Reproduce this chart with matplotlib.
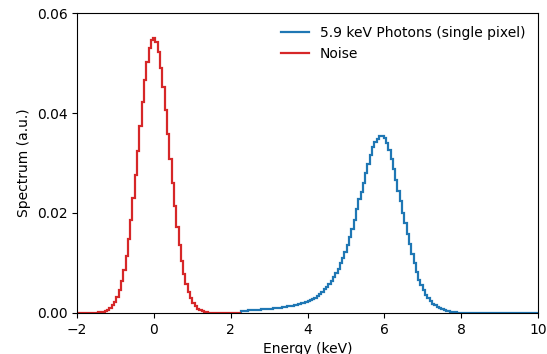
import numpy as np
import matplotlib
matplotlib.use('Agg')
import matplotlib.pyplot as plt

# 200 bins from -2 to 10 keV (0.06 keV wide)
e_lo, e_hi, nbins = -2.0, 10.0, 200

# noise spectrum, first 71 bins (centres -1.97 ... 2.23)
noise = [0, 0, 0, 0, 0, 0, 0.00001, 0.00003, 0.00005, 0.00009,
         0.00016, 0.00026, 0.00042, 0.00066, 0.00102, 0.00154, 0.00227, 0.00328, 0.00462, 0.00639,
         0.00862, 0.0114, 0.0147, 0.0185, 0.0229, 0.0276, 0.0325, 0.0375, 0.0423, 0.0466,
         0.0503, 0.0530, 0.0546, 0.0550, 0.0542, 0.0522, 0.0491, 0.0452, 0.0407, 0.0359,
         0.0309, 0.0260, 0.0214, 0.0172, 0.0135, 0.0104, 0.00782, 0.00575, 0.00414, 0.00291,
         0.00200, 0.00134, 0.00088, 0.00057, 0.00036, 0.00022, 0.00013, 0.00008, 0.00004, 0.00002,
         0.00001, 0, 0, 0, 0, 0, 0, 0, 0, 0,
         0]

# 5.9 keV photons, remaining 129 bins (centres 2.29 ... 9.97)
photons = [0.00045, 0.00046, 0.00048, 0.00051, 0.00053, 0.00056, 0.00058, 0.00062, 0.00065, 0.00069,
           0.00073, 0.00077, 0.00082, 0.00087, 0.00092, 0.00097, 0.00102, 0.00108, 0.00115, 0.00122,
           0.00129, 0.00137, 0.00146, 0.00155, 0.00166, 0.00178, 0.0019, 0.00203, 0.00221, 0.00239,
           0.00257, 0.0028, 0.00305, 0.0034, 0.0037, 0.0041, 0.0047, 0.0052, 0.0058, 0.0064,
           0.0071, 0.0079, 0.0088, 0.0099, 0.0110, 0.0122, 0.0136, 0.0151, 0.0167, 0.0186,
           0.0207, 0.0228, 0.0243, 0.0261, 0.0280, 0.0299, 0.0316, 0.0332, 0.0342, 0.0349,
           0.0354, 0.0355, 0.0351, 0.0340, 0.0327, 0.0309, 0.0288, 0.0266, 0.0245, 0.0223,
           0.0200, 0.0179, 0.0158, 0.0138, 0.0118, 0.0099, 0.0082, 0.0066, 0.0055, 0.0045,
           0.0036, 0.0030, 0.0023, 0.0018, 0.0015, 0.0011, 0.0009, 0.0007, 0.00052, 0.0004,
           0.0003, 0.00022, 0.00016, 0.00011, 0.00008, 0.00005, 0.00004, 0.00003, 0.00002, 0.00002,
           0.00001, 0.00001, 0, 0, 0, 0, 0, 0, 0, 0,
           0, 0, 0, 0, 0, 0, 0, 0, 0, 0,
           0, 0, 0, 0, 0, 0, 0, 0, 0]

labels = ['5.9 keV Photons (single pixel)', 'Noise']

edges = np.linspace(e_lo, e_hi, nbins+1)
n_no = len(noise)

fig = plt.figure(figsize=(5.47, 3.54), dpi=100)
ax = fig.add_axes([0.141, 0.116, 0.8425, 0.847])

ax.stairs(photons, edges[n_no:], color='#1f77b4', lw=1.6, label=labels[0])
ax.stairs(noise, edges[:n_no+1], color='#d62728', lw=1.6, label=labels[1])

ax.set_xlim(-2, 10)
ax.set_ylim(0, 0.06)
ax.set_xticks(np.arange(-2, 11, 2))
ax.set_yticks([0, 0.02, 0.04, 0.06])
ax.set_xlabel('Energy (keV)')
ax.set_ylabel('Spectrum (a.u.)')
ax.legend(loc='upper right', frameon=False)

fig.savefig('out.png', dpi=100)
